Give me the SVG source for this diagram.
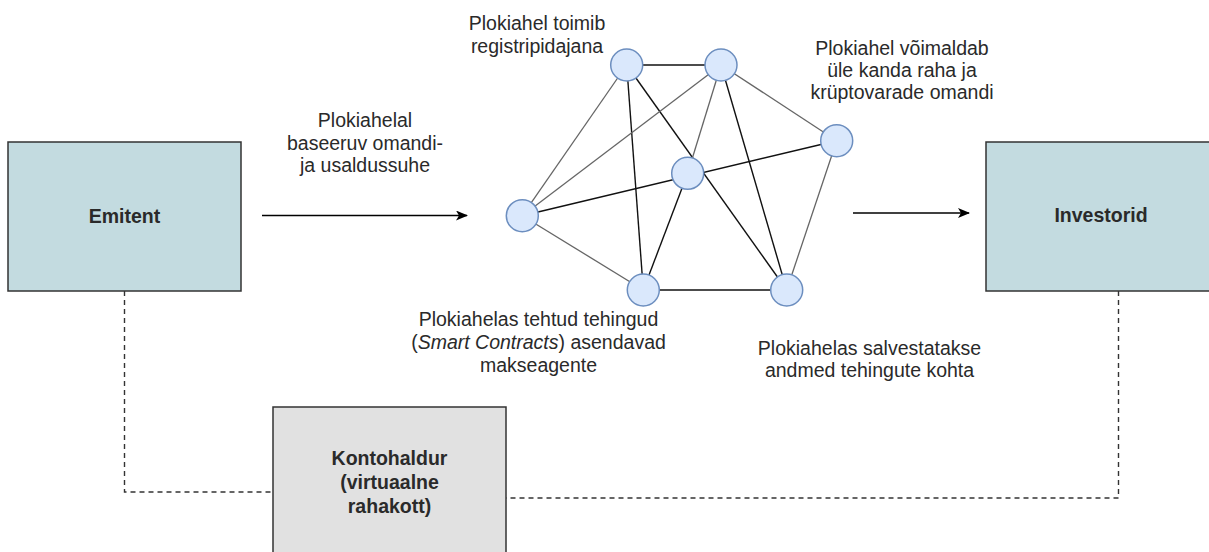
<svg xmlns="http://www.w3.org/2000/svg" width="1209" height="552" viewBox="0 0 1209 552">
<style>
text{font-family:"Liberation Sans",Arial,sans-serif;font-size:19.5px;fill:#2a2a2a;text-anchor:middle}
.b{font-weight:bold}
.box{stroke:#333;stroke-width:1.5}
.blue{fill:#c3dbe0}
.gray{fill:#e1e1e1}
.n{fill:#dae8fc;stroke:#6c8ebf;stroke-width:1.5}
.dk{stroke:#111;stroke-width:1.4;fill:none}
.lt{stroke:#666;stroke-width:1.3;fill:none}
.arr{stroke:#000;stroke-width:1.6;fill:none}
.dash{stroke:#333;stroke-width:1.4;fill:none;stroke-dasharray:5 4}
</style>
<defs>
<marker id="ah" markerWidth="12" markerHeight="10" refX="11" refY="5" orient="auto" markerUnits="userSpaceOnUse">
<path d="M0,0 L12,5 L0,10 L3,5 Z" fill="#000"/>
</marker>
</defs>
<rect width="1209" height="552" fill="#fff"/>
<g id="connectors">
<line class="arr" x1="262" y1="215.5" x2="467" y2="215.5" marker-end="url(#ah)"/>
<line class="arr" x1="853" y1="213" x2="969" y2="213" marker-end="url(#ah)"/>
<polyline class="dash" points="124.5,291 124.5,492 273,492"/>
<polyline class="dash" points="1118.5,291 1118.5,498 506,498"/>
<line class="dk" x1="626.7" y1="65" x2="721" y2="65"/>
<line class="lt" x1="626.7" y1="65" x2="522.3" y2="215.7"/>
<line class="dk" x1="626.7" y1="65" x2="643.3" y2="290"/>
<line class="dk" x1="626.7" y1="65" x2="786.7" y2="290"/>
<line class="lt" x1="721" y1="65" x2="522.3" y2="215.7"/>
<line class="lt" x1="721" y1="65" x2="687.7" y2="173.3"/>
<line class="dk" x1="721" y1="65" x2="786.7" y2="290"/>
<line class="lt" x1="721" y1="65" x2="836.7" y2="140.7"/>
<line class="dk" x1="522.3" y1="215.7" x2="836.7" y2="140.7"/>
<line class="dk" x1="687.7" y1="173.3" x2="643.3" y2="290"/>
<line class="lt" x1="522.3" y1="215.7" x2="643.3" y2="290"/>
<line class="dk" x1="643.3" y1="290" x2="786.7" y2="290"/>
<line class="lt" x1="836.7" y1="140.7" x2="786.7" y2="290"/>
</g>
<g id="emitent">
<rect class="box blue" x="8" y="142" width="233" height="149"/>
<text class="b" x="124.5" y="222.5">Emitent</text>
</g>
<g id="investorid">
<rect class="box blue" x="986" y="142" width="240" height="149"/>
<text class="b" x="1101" y="222">Investorid</text>
</g>
<g id="kontohaldur">
<rect class="box gray" x="273" y="407" width="233" height="149"/>
<text class="b" x="389.5" y="465">Kontohaldur</text>
<text class="b" x="389.5" y="489">(virtuaalne</text>
<text class="b" x="389.5" y="513">rahakott)</text>
</g>
<g id="node-a"><circle class="n" cx="626.7" cy="65" r="16"/></g>
<g id="node-b"><circle class="n" cx="721" cy="65" r="16"/></g>
<g id="node-c"><circle class="n" cx="836.7" cy="140.7" r="16"/></g>
<g id="node-d"><circle class="n" cx="687.7" cy="173.3" r="16"/></g>
<g id="node-e"><circle class="n" cx="522.3" cy="215.7" r="16"/></g>
<g id="node-f"><circle class="n" cx="643.3" cy="290" r="16"/></g>
<g id="node-g"><circle class="n" cx="786.7" cy="290" r="16"/></g>
<g id="label-registripidaja">
<text x="537" y="29.5">Plokiahel toimib</text>
<text x="537" y="52.5">registripidajana</text>
</g>
<g id="label-voimaldab">
<text x="902" y="54.5">Plokiahel võimaldab</text>
<text x="902" y="76.5">üle kanda raha ja</text>
<text x="902" y="98.5">krüptovarade omandi</text>
</g>
<g id="label-usaldus">
<text x="365" y="127">Plokiahelal</text>
<text x="365" y="149.5">baseeruv omandi-</text>
<text x="365" y="172">ja usaldussuhe</text>
</g>
<g id="label-tehingud">
<text x="538.5" y="326">Plokiahelas tehtud tehingud</text>
<text x="538.5" y="349">(<tspan font-style="italic">Smart Contracts</tspan>) asendavad</text>
<text x="538.5" y="372">makseagente</text>
</g>
<g id="label-salvestatakse">
<text x="869.5" y="355">Plokiahelas salvestatakse</text>
<text x="869.5" y="377">andmed tehingute kohta</text>
</g>
</svg>
